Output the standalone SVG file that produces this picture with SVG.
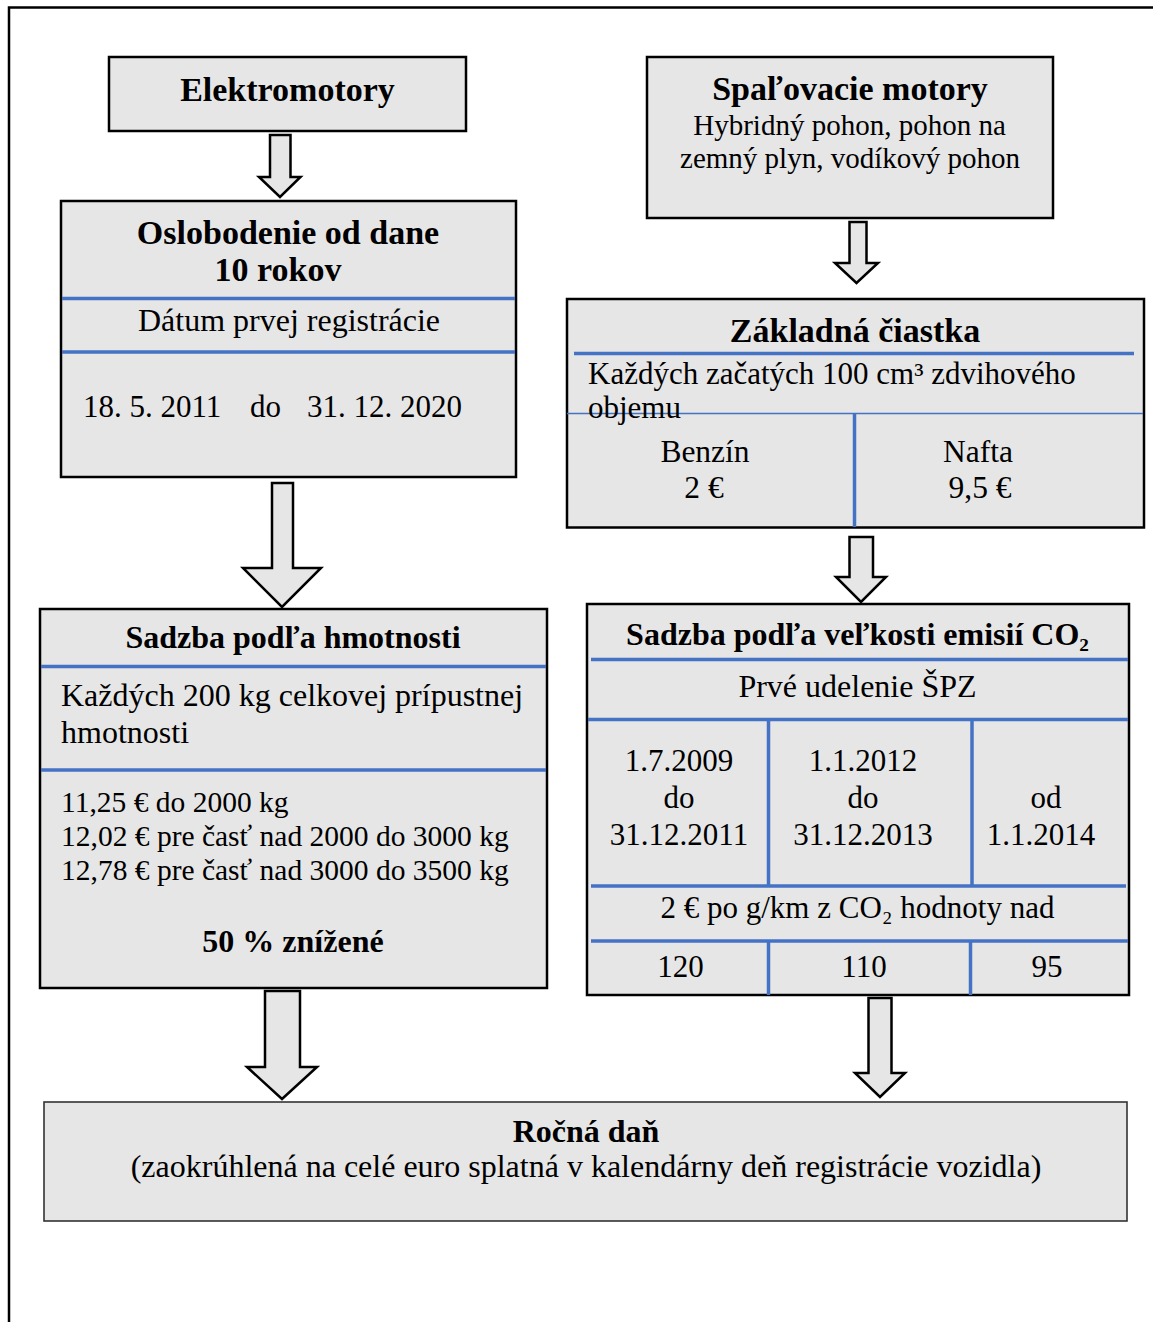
<svg xmlns="http://www.w3.org/2000/svg" width="1153" height="1322" viewBox="0 0 1153 1322">
<style>
text{font-family:"Liberation Serif","Times New Roman",serif;fill:#000}
.b{font-weight:bold}
.c{text-anchor:middle}
.box{fill:#e6e6e6;stroke:#000;stroke-width:2.5}
.box2{fill:#e6e6e6;stroke:#333;stroke-width:1.6}
.bl{stroke:#4472c4;stroke-width:3.5;fill:none}
.bt{stroke:#4472c4;stroke-width:1.5;fill:none}
.arr{fill:#e6e6e6;stroke:#000;stroke-width:2.5;stroke-linejoin:miter}
</style>
<rect width="1153" height="1322" fill="#fff"/>
<path d="M9,1322 V7.5 H1153" fill="none" stroke="#000" stroke-width="2.5"/>

<g id="elektromotory">
<rect class="box" x="109" y="57" width="357" height="74"/>
<text class="b c" x="287.5" y="101" font-size="34">Elektromotory</text>
</g>

<g id="oslobodenie">
<rect class="box" x="61" y="201" width="455" height="276"/>
<line class="bl" x1="62" y1="298.5" x2="515" y2="298.5"/>
<line class="bl" x1="62" y1="352" x2="515" y2="352"/>
<text class="b c" x="288" y="244" font-size="34">Oslobodenie od dane</text>
<text class="b c" x="278" y="281" font-size="34">10 rokov</text>
<text class="c" x="289" y="331" font-size="32">Dátum prvej registrácie</text>
<text y="417" font-size="31"><tspan x="83">18. 5. 2011</tspan><tspan x="250">do</tspan><tspan x="307">31. 12. 2020</tspan></text>
</g>

<g id="spalovacie">
<rect class="box" x="647" y="57" width="406" height="161"/>
<text class="b c" x="850" y="100" font-size="34">Spaľovacie motory</text>
<text class="c" x="849.5" y="135" font-size="29">Hybridný pohon, pohon na</text>
<text class="c" x="850" y="168" font-size="29">zemný plyn, vodíkový pohon</text>
</g>

<g id="zakladna">
<rect class="box" x="567" y="299" width="577" height="228.5"/>
<line class="bl" x1="574" y1="353.5" x2="1134" y2="353.5"/>
<line class="bt" x1="567" y1="413.5" x2="1143" y2="413.5"/>
<line class="bl" x1="854.5" y1="413.5" x2="854.5" y2="527"/>
<text class="b c" x="855" y="342" font-size="34">Základná čiastka</text>
<text x="588" y="384" font-size="31">Každých začatých 100 cm³ zdvihového</text>
<text x="588" y="418" font-size="31">objemu</text>
<text class="c" x="705" y="462" font-size="31.5">Benzín</text>
<text class="c" x="704" y="498" font-size="31.5">2 €</text>
<text class="c" x="978" y="462" font-size="31.5">Nafta</text>
<text class="c" x="980" y="498" font-size="31.5">9,5 €</text>
</g>

<g id="sadzba-hmotnost">
<rect class="box" x="40" y="609" width="507" height="379"/>
<line class="bl" x1="41" y1="666.5" x2="546" y2="666.5"/>
<line class="bl" x1="41" y1="770" x2="546" y2="770"/>
<text class="b c" x="293" y="648" font-size="32">Sadzba podľa hmotnosti</text>
<text x="61" y="706" font-size="32">Každých 200 kg celkovej prípustnej</text>
<text x="61" y="743" font-size="32">hmotnosti</text>
<text x="61" y="812" font-size="29.5">11,25 € do 2000 kg</text>
<text x="61" y="846" font-size="29.5">12,02 € pre časť nad 2000 do 3000 kg</text>
<text x="61" y="880" font-size="29.5">12,78 € pre časť nad 3000 do 3500 kg</text>
<text class="b c" x="293" y="952" font-size="32">50 % znížené</text>
</g>

<g id="sadzba-co2">
<rect class="box" x="587" y="604" width="542" height="391"/>
<line class="bl" x1="591" y1="659.5" x2="1128" y2="659.5"/>
<line class="bl" x1="588" y1="719.5" x2="1128" y2="719.5"/>
<line class="bl" x1="591" y1="886" x2="1126" y2="886"/>
<line class="bl" x1="591" y1="941" x2="1128" y2="941"/>
<line class="bl" x1="768.5" y1="719.5" x2="768.5" y2="886"/>
<line class="bl" x1="972" y1="719.5" x2="972" y2="886"/>
<line class="bl" x1="768.5" y1="941" x2="768.5" y2="995"/>
<line class="bl" x1="970.5" y1="941" x2="970.5" y2="995"/>
<text class="b c" x="857.5" y="645" font-size="32">Sadzba podľa veľkosti emisií CO₂</text>
<text class="c" x="857.5" y="697" font-size="32">Prvé udelenie ŠPZ</text>
<text class="c" font-size="31"><tspan x="679" y="771">1.7.2009</tspan><tspan x="679" y="808">do</tspan><tspan x="679" y="845">31.12.2011</tspan></text>
<text class="c" font-size="31"><tspan x="863" y="771">1.1.2012</tspan><tspan x="863" y="808">do</tspan><tspan x="863" y="845">31.12.2013</tspan></text>
<text class="c" font-size="31"><tspan x="1046" y="808">od</tspan><tspan x="1041" y="845">1.1.2014</tspan></text>
<text class="c" x="857.5" y="918" font-size="31">2 € po g/km z CO₂ hodnoty nad</text>
<text class="c" x="680.5" y="977" font-size="31">120</text>
<text class="c" x="864" y="977" font-size="31">110</text>
<text class="c" x="1047" y="977" font-size="31">95</text>
</g>

<g id="rocna-dan">
<rect class="box2" x="44" y="1102" width="1083" height="119"/>
<text class="b c" x="586" y="1142" font-size="32">Ročná daň</text>
<text class="c" x="586" y="1177" font-size="32">(zaokrúhlená na celé euro splatná v kalendárny deň registrácie vozidla)</text>
</g>

<g id="connectors">
<polygon class="arr" points="270,135 290.5,135 290.5,177 300.5,177 280,197 259,177 270,177"/>
<polygon class="arr" points="849.5,222 866.5,222 866.5,263 878,263 856.5,283 835,263 849.5,263"/>
<polygon class="arr" points="849.5,537 873,537 873,577 886,577 861,602 836,577 849.5,577"/>
<polygon class="arr" points="272,483 293,483 293,568 321,568 282,607 243,568 272,568"/>
<polygon class="arr" points="265,991 300,991 300,1067 317,1067 282,1099 247,1067 265,1067"/>
<polygon class="arr" points="868.5,998 891.5,998 891.5,1073 905,1073 880,1097 855,1073 868.5,1073"/>
</g>
</svg>
